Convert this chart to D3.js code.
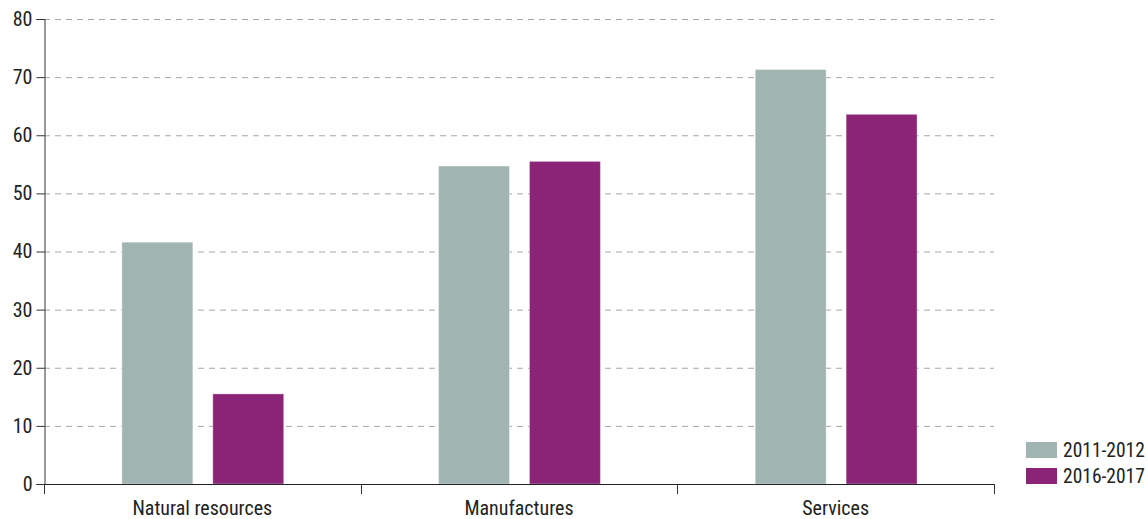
<!DOCTYPE html>
<html><head><meta charset="utf-8">
<script src="https://cdn.jsdelivr.net/npm/d3@7"></script>
<style>
body{margin:0;background:#fff;}
text{font-family:"Liberation Sans Narrow","Roboto Condensed","Liberation Sans",sans-serif;fill:#222;}
</style></head>
<body><svg id="c" width="1148" height="519"></svg>
<script>
const categories = ["Natural resources","Manufactures","Services"];
const seriesNames = ["2011-2012","2016-2017"];
const values2011 = [41.6, 54.7, 71.3];
const values2016 = [15.5, 55.5, 63.6];
const yTicks = [0,10,20,30,40,50,60,70,80];
const colors = ["#a0b4b1","#8b2477"];

const svg = d3.select("#c");
const m = {l:44, r:154, t:19, b:35};
const W = 1148, H = 519;
const x0 = d3.scaleBand().domain(categories).range([m.l, W-m.r]).padding(0);
const bw = x0.bandwidth();
const x1 = d3.scaleBand().domain(seriesNames).range([bw*0.246, bw*0.757]).paddingInner(0.22).paddingOuter(0);
const y = d3.scaleLinear().domain([0,80]).range([H-m.b, m.t]);

// gridlines
svg.append("g").selectAll("line").data(yTicks.filter(d=>d>0)).join("line")
  .attr("x1", m.l).attr("x2", W-m.r)
  .attr("y1", d=>y(d)+0.5).attr("y2", d=>y(d)+0.5)
  .attr("stroke","#a6a6a6").attr("stroke-width",1).attr("stroke-dasharray","6,5");

const data = categories.map((c,i)=>({c, vals:[values2011[i], values2016[i]]}));
const g = svg.append("g");
data.forEach(d=>{
  d.vals.forEach((v,j)=>{
    g.append("rect")
      .attr("x", x0(d.c)+x1(seriesNames[j]))
      .attr("y", y(v))
      .attr("width", x1.bandwidth())
      .attr("height", y(0)-y(v))
      .attr("fill", colors[j])
      .attr("stroke","rgba(255,255,255,0.35)").attr("stroke-width",1);
  });
});

// y axis
const ya = svg.append("g").attr("transform",`translate(${m.l+0.5},0)`)
  .call(d3.axisLeft(y).tickValues(yTicks).tickSize(8).tickPadding(4).tickFormat(d3.format("d")));
ya.select(".domain").attr("stroke","#333");
ya.selectAll(".tick line").attr("stroke","#333");
ya.selectAll("text").style("font-size","20px").attr("fill","#222");

// x axis
const xa = svg.append("g").attr("transform",`translate(0,${y(0)+0.5})`)
  .call(d3.axisBottom(x0).tickSize(0).tickPadding(16));
xa.select(".domain").attr("stroke","#222").attr("d", `M${m.l},0H${W-m.r}`);
xa.selectAll("text").style("font-size","20px").attr("fill","#222");
const bounds = [m.l, ...categories.map(c=>x0(c)+bw)];
svg.append("g").selectAll("line").data(bounds).join("line")
  .attr("x1",d=>Math.round(d)+0.5).attr("x2",d=>Math.round(d)+0.5)
  .attr("y1",y(0)).attr("y2",y(0)+10).attr("stroke","#333");

// legend
const lg = svg.append("g").attr("transform","translate(1026,442)");
seriesNames.forEach((s,i)=>{
  lg.append("rect").attr("x",0).attr("y",i*26).attr("width",31).attr("height",16).attr("fill",colors[i]);
  lg.append("text").attr("x",37).attr("y",i*26+8).attr("dy","0.35em").style("font-size","19.5px").text(s);
});
</script></body></html>
